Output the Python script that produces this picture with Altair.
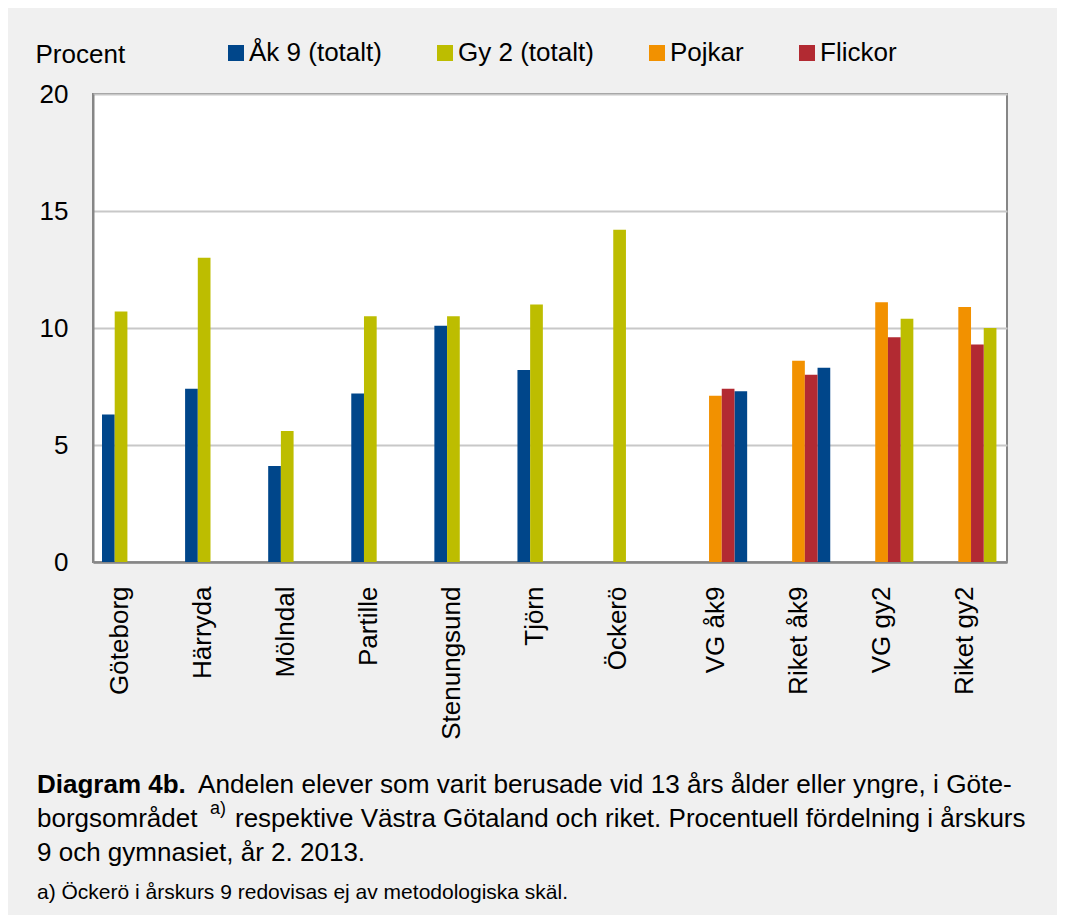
import altair as alt
import pandas as pd

# ---- data ----
categories = ["Göteborg", "Härryda", "Mölndal", "Partille", "Stenungsund", "Tjörn",
              "Öckerö", "VG åk9", "Riket åk9", "VG gy2", "Riket gy2"]
ak9_totalt = [6.3, 7.4, 4.1, 7.2, 10.1, 8.2, None, 7.3, 8.3, None, None]
gy2_totalt = [10.7, 13.0, 5.6, 10.5, 10.5, 11.0, 14.2, None, None, 10.4, 10.0]
pojkar = [None, None, None, None, None, None, None, 7.1, 8.6, 11.1, 10.9]
flickor = [None, None, None, None, None, None, None, 7.4, 8.0, 9.6, 9.3]

series_names = ["Åk 9 (totalt)", "Gy 2 (totalt)", "Pojkar", "Flickor"]
series_colors = ["#00468a", "#bdbd00", "#f29100", "#b22a32"]
regional = ["VG åk9", "Riket åk9", "VG gy2", "Riket gy2"]

y_title = "Procent"
caption_bold = "Diagram 4b."
caption_line1 = "Andelen elever som varit berusade vid 13 års ålder eller yngre, i Göte-"
caption_line2a = "borgsområdet"
caption_sup = "a)"
caption_line2b = "respektive Västra Götaland och riket. Procentuell fördelning i årskurs"
caption_line3 = "9 och gymnasiet, år 2. 2013."
footnote = "a) Öckerö i årskurs 9 redovisas ej av metodologiska skäl."

# ---- long table ----
rows = []
for i, cat in enumerate(categories):
    is_reg = cat in regional
    for name, vals in zip(series_names, [ak9_totalt, gy2_totalt, pojkar, flickor]):
        v = vals[i]
        if v is None:
            continue
        if is_reg:
            slot = {"Pojkar": "2", "Flickor": "3"}.get(name, "4")
        else:
            slot = {"Åk 9 (totalt)": "0", "Gy 2 (totalt)": "1"}[name]
        rows.append({"kategori": cat, "serie": name, "varde": v, "slot": slot})
df = pd.DataFrame(rows)

FONT = "Liberation Sans"
reg_test = "indexof(['VG åk9','Riket åk9','VG gy2','Riket gy2'], datum.value) < 0"

bars = alt.Chart(df).mark_bar().encode(
    x=alt.X("kategori:N", sort=categories,
            scale=alt.Scale(paddingInner=0, paddingOuter=0),
            axis=alt.Axis(title=None, labelAngle=270, labelAlign="right",
                          labelBaseline="middle", labelFontSize=26,
                          labelPadding=24, ticks=False, tickSize=0,
                          labelColor="#000000",
                          domainColor="#868686", domainWidth=2.5,
                          labelOffset={"condition": {"test": reg_test, "value": -15},
                                       "value": 0})),
    xOffset=alt.XOffset("slot:N",
                        scale=alt.Scale(domain=["0", "1", "2", "3", "4"],
                                        paddingInner=0, paddingOuter=0.77, align=0.46)),
    y=alt.Y("varde:Q", scale=alt.Scale(domain=[0, 20], nice=False),
            axis=alt.Axis(values=[0, 5, 10, 15, 20], title=y_title,
                          titleAngle=0, titleAlign="left", titleBaseline="alphabetic",
                          titleX=-58, titleY=-32, titleFontSize=26,
                          titleFontWeight="normal", titleColor="#000000",
                          labelFontSize=26, labelPadding=25, labelColor="#000000",
                          ticks=False, tickSize=0,
                          gridColor="#c8c8c8", gridWidth=2,
                          domainColor="#868686", domainWidth=2)),
    color=alt.Color("serie:N",
                    scale=alt.Scale(domain=series_names, range=series_colors),
                    legend=alt.Legend(title=None, orient="none", legendX=130, legendY=-54,
                                      direction="horizontal", symbolType="square",
                                      symbolSize=256, symbolStrokeWidth=0,
                                      symbolOpacity=1, labelFontSize=26, labelOffset=0,
                                      columnPadding=50, padding=0,
                                      labelColor="#000000")),
)

one = alt.Data(values=[{}])


def txt(text, x, y, size=26, weight="normal", align="left"):
    return alt.Chart(one).mark_text(
        text=text, align=align, baseline="alphabetic", fontSize=size,
        fontWeight=weight, font=FONT, color="#000000"
    ).encode(x=alt.value(x), y=alt.value(y))


chart = alt.layer(
    bars,
    txt(caption_bold, -56, 699, weight="bold"),
    txt(caption_line1, 105, 699, size=26.2),
    txt(caption_line2a, -56, 733),
    txt(caption_sup, 117, 720, size=18),
    txt(caption_line2b, 142, 733),
    txt(caption_line3, -56, 767),
    txt(footnote, -56, 805, size=21),
).properties(
    width=914, height=468,
    autosize=alt.AutoSizeParams(type="none"),
    padding={"left": 85, "top": 86, "right": 50, "bottom": 353},
    background="#f0f0f0",
).configure(font=FONT).configure_view(
    stroke="#868686", strokeWidth=2, fill="#ffffff"
)

chart.save("out.html", embed_options={"renderer": "svg", "actions": False})
